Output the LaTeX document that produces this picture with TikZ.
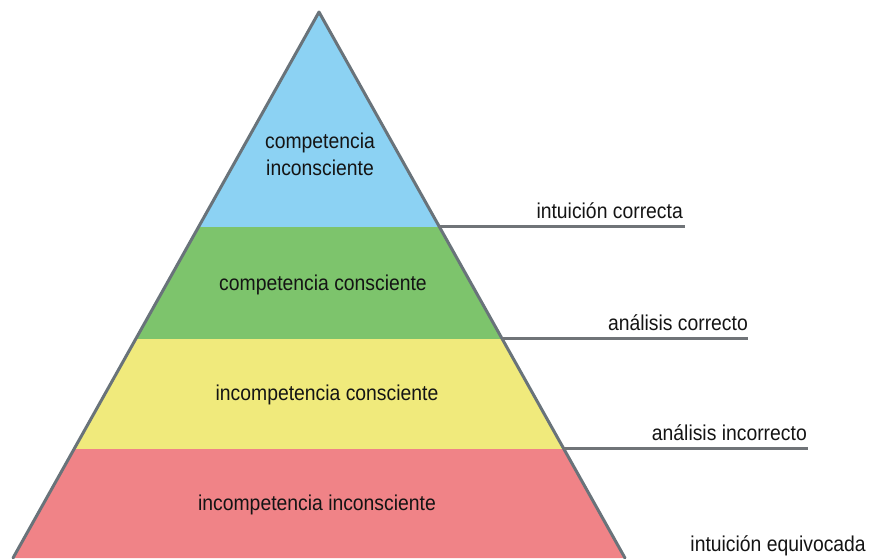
\documentclass[tikz,border=0pt]{standalone}
\usepackage{fontspec}
\setmainfont{Liberation Sans}[FakeStretch=0.9]
\definecolor{bandblue}{RGB}{140,210,243}
\definecolor{bandgreen}{RGB}{125,196,108}
\definecolor{bandyellow}{RGB}{240,234,124}
\definecolor{bandred}{RGB}{240,131,135}
\definecolor{edgegray}{RGB}{105,115,122}
\definecolor{linegray}{RGB}{112,116,120}
\definecolor{txt}{RGB}{20,20,20}
\tikzset{
  lab/.style={text=txt,font=\fontsize{21.5}{27}\selectfont,inner sep=0pt,align=center},
  sidelab/.style={lab,anchor=east},
  rule/.style={draw=linegray,line width=3pt},
  side/.style={draw=edgegray,line width=3pt,line cap=round,line join=round}
}
\begin{document}
\begin{tikzpicture}[x=1pt,y=-1pt]
\useasboundingbox (0,0) rectangle (883,558);
\coordinate (apex) at (319,12);
\coordinate (bl) at (13,558);
\coordinate (br) at (625,558);
\begin{scope}
  \clip (apex) -- (br) -- (bl) -- cycle;
  \fill[bandblue] (0,0) rectangle (883,227);
  \fill[bandgreen] (0,227) rectangle (883,339);
  \fill[bandyellow] (0,339) rectangle (883,449);
  \fill[bandred] (0,449) rectangle (883,560);
\end{scope}
\draw[side] (bl) -- (apex) -- (br);
% connectors
\coordinate (e1) at (439,226);
\coordinate (e2) at (502,338);
\coordinate (e3) at (564,448);
\coordinate (f1) at (685,226);
\coordinate (f2) at (748,338);
\coordinate (f3) at (808,448);
\draw[rule] (e1) -- (f1);
\draw[rule] (e2) -- (f2);
\draw[rule] (e3) -- (f3);
% band texts
\node[lab] (t1) at (320,154) {competencia\\inconsciente};
\node[lab] (t2) at (323,285) {competencia consciente};
\node[lab] (t3) at (327,395) {incompetencia consciente};
\node[lab] (t4) at (317,505) {incompetencia inconsciente};
% side labels
\node[sidelab] (s1) at (683,211) {intuición correcta};
\node[sidelab] (s2) at (748,323) {análisis correcto};
\node[sidelab] (s3) at (807,433) {análisis incorrecto};
\node[sidelab] (s4) at (866,546) {intuición equivocada};
\end{tikzpicture}
\end{document}
